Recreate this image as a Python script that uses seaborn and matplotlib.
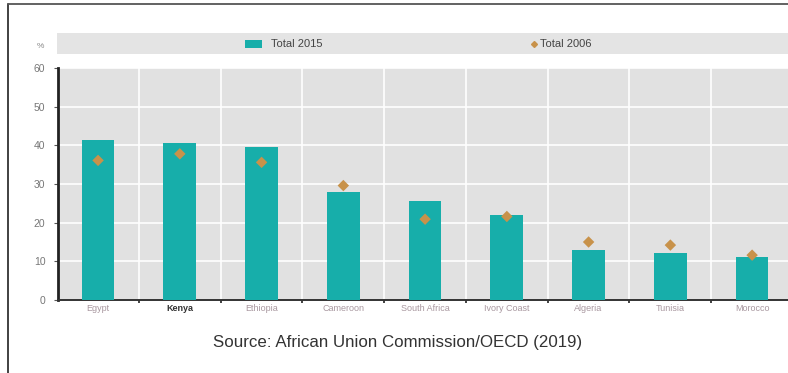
import matplotlib
matplotlib.use("Agg")
import matplotlib.pyplot as plt
from matplotlib.patches import Rectangle
from matplotlib.lines import Line2D
import seaborn as sns
import pandas as pd
import numpy as np

countries = ["Egypt", "Kenya", "Ethiopia", "Cameroon", "South Africa",
             "Ivory Coast", "Algeria", "Tunisia", "Morocco"]
total_2015 = [41.5, 40.5, 39.5, 27.9, 25.5, 21.9, 12.9, 12.2, 11.2]
total_2006 = [36.1, 37.8, 35.6, 29.6, 20.9, 21.6, 15.0, 14.2, 11.6]
y_ticks = [0, 10, 20, 30, 40, 50, 60]
series_labels = ["Total 2015", "Total 2006"]
source_text = "Source: African Union Commission/OECD (2019)"

BAR = "#17aeaa"
DOT = "#c8924a"
PANEL = "#e1e1e1"

df = pd.DataFrame({"country": countries, "t2015": total_2015, "t2006": total_2006})

sns.set_theme(style="white")
plt.rcParams["font.family"] = ["Liberation Sans", "DejaVu Sans"]

W, H = 788, 373
fig = plt.figure(figsize=(W / 100, H / 100), dpi=100)
fig.patch.set_facecolor("white")

# plot panel (extends slightly past the right edge)
x0, x1, ytop, ybot = 58, 793, 68, 300
ax = fig.add_axes([x0 / W, 1 - ybot / H, (x1 - x0) / W, (ybot - ytop) / H])
ax.set_facecolor(PANEL)

sns.barplot(data=df, x="country", y="t2015", color=BAR, width=0.40,
            saturation=1, edgecolor="none", linewidth=0, ax=ax, zorder=3)
sns.scatterplot(data=df, x="country", y="t2006", color=DOT, marker="D",
                s=34, edgecolor="none", ax=ax, zorder=4)

ax.set_xlim(-0.49, 8.5)
ax.set_ylim(0, 60)
ax.set_xlabel("")
ax.set_ylabel("")

# white grid: horizontal at y ticks, vertical between categories
ax.set_yticks(y_ticks)
ax.set_xticks(np.arange(len(countries)))
ax.set_xticks(np.arange(len(countries) - 1) + 0.5, minor=True)
ax.grid(False)
for y in y_ticks[1:]:
    ax.axhline(y, color="white", lw=1.2, zorder=1)
for xm in np.arange(len(countries) - 1) + 0.5:
    ax.axvline(xm, color="white", lw=1.2, zorder=1)

for s in ["top", "right"]:
    ax.spines[s].set_visible(False)
ax.spines["left"].set_color("#222222")
ax.spines["left"].set_linewidth(2.0)
ax.spines["bottom"].set_color("#333333")
ax.spines["bottom"].set_linewidth(1.4)

ax.tick_params(axis="y", length=3, width=0.8, color="#555555",
               labelsize=7.5, labelcolor="#777777", pad=6, left=True)
ax.tick_params(axis="x", which="major", length=0, labelsize=6.5, pad=3)
ax.tick_params(axis="x", which="minor", length=2.5, width=1.2,
               color="#222222", bottom=True)
ax.set_xticklabels(countries)
for lbl in ax.get_xticklabels():
    if lbl.get_text() == "Kenya":
        lbl.set_color("#333333")
        lbl.set_fontweight("bold")
    else:
        lbl.set_color("#a8979f")

# legend band above the panel
band = Rectangle((57 / W, 1 - 54 / H), (W - 57) / W, 21 / H,
                 transform=fig.transFigure, facecolor="#e4e4e4",
                 edgecolor="none", zorder=0)
fig.patches.append(band)
fig.patches.append(Rectangle((245 / W, 1 - 47.5 / H), 17 / W, 7 / H,
                             transform=fig.transFigure, facecolor=BAR,
                             edgecolor="none"))
fig.text(271 / W, 1 - 44 / H, series_labels[0], fontsize=8,
         color="#444444", va="center", ha="left", stretch="condensed")
fig.lines.append(Line2D([534 / W], [1 - 44 / H], marker="D", markersize=3,
                        color=DOT, transform=fig.transFigure, lw=0))
fig.text(540 / W, 1 - 44 / H, series_labels[1],
         fontsize=8, color="#444444", va="center", ha="left")
fig.text(40 / W, 1 - 47 / H, "%", fontsize=6, color="#888888",
         va="center", ha="center")

# source line
fig.text(398 / W, 1 - 343 / H, source_text, fontsize=12.2,
         color="#333333", ha="center", va="center")

# frame lines along the left and top edges
fig.lines.append(Line2D([7.5 / W, 7.5 / W], [0, 1 - 4 / H],
                        transform=fig.transFigure, color="#333333", lw=1.3))
fig.lines.append(Line2D([7.5 / W, 1], [1 - 4 / H, 1 - 4 / H],
                        transform=fig.transFigure, color="#555555", lw=1.3))

fig.savefig("out.png", dpi=100)
